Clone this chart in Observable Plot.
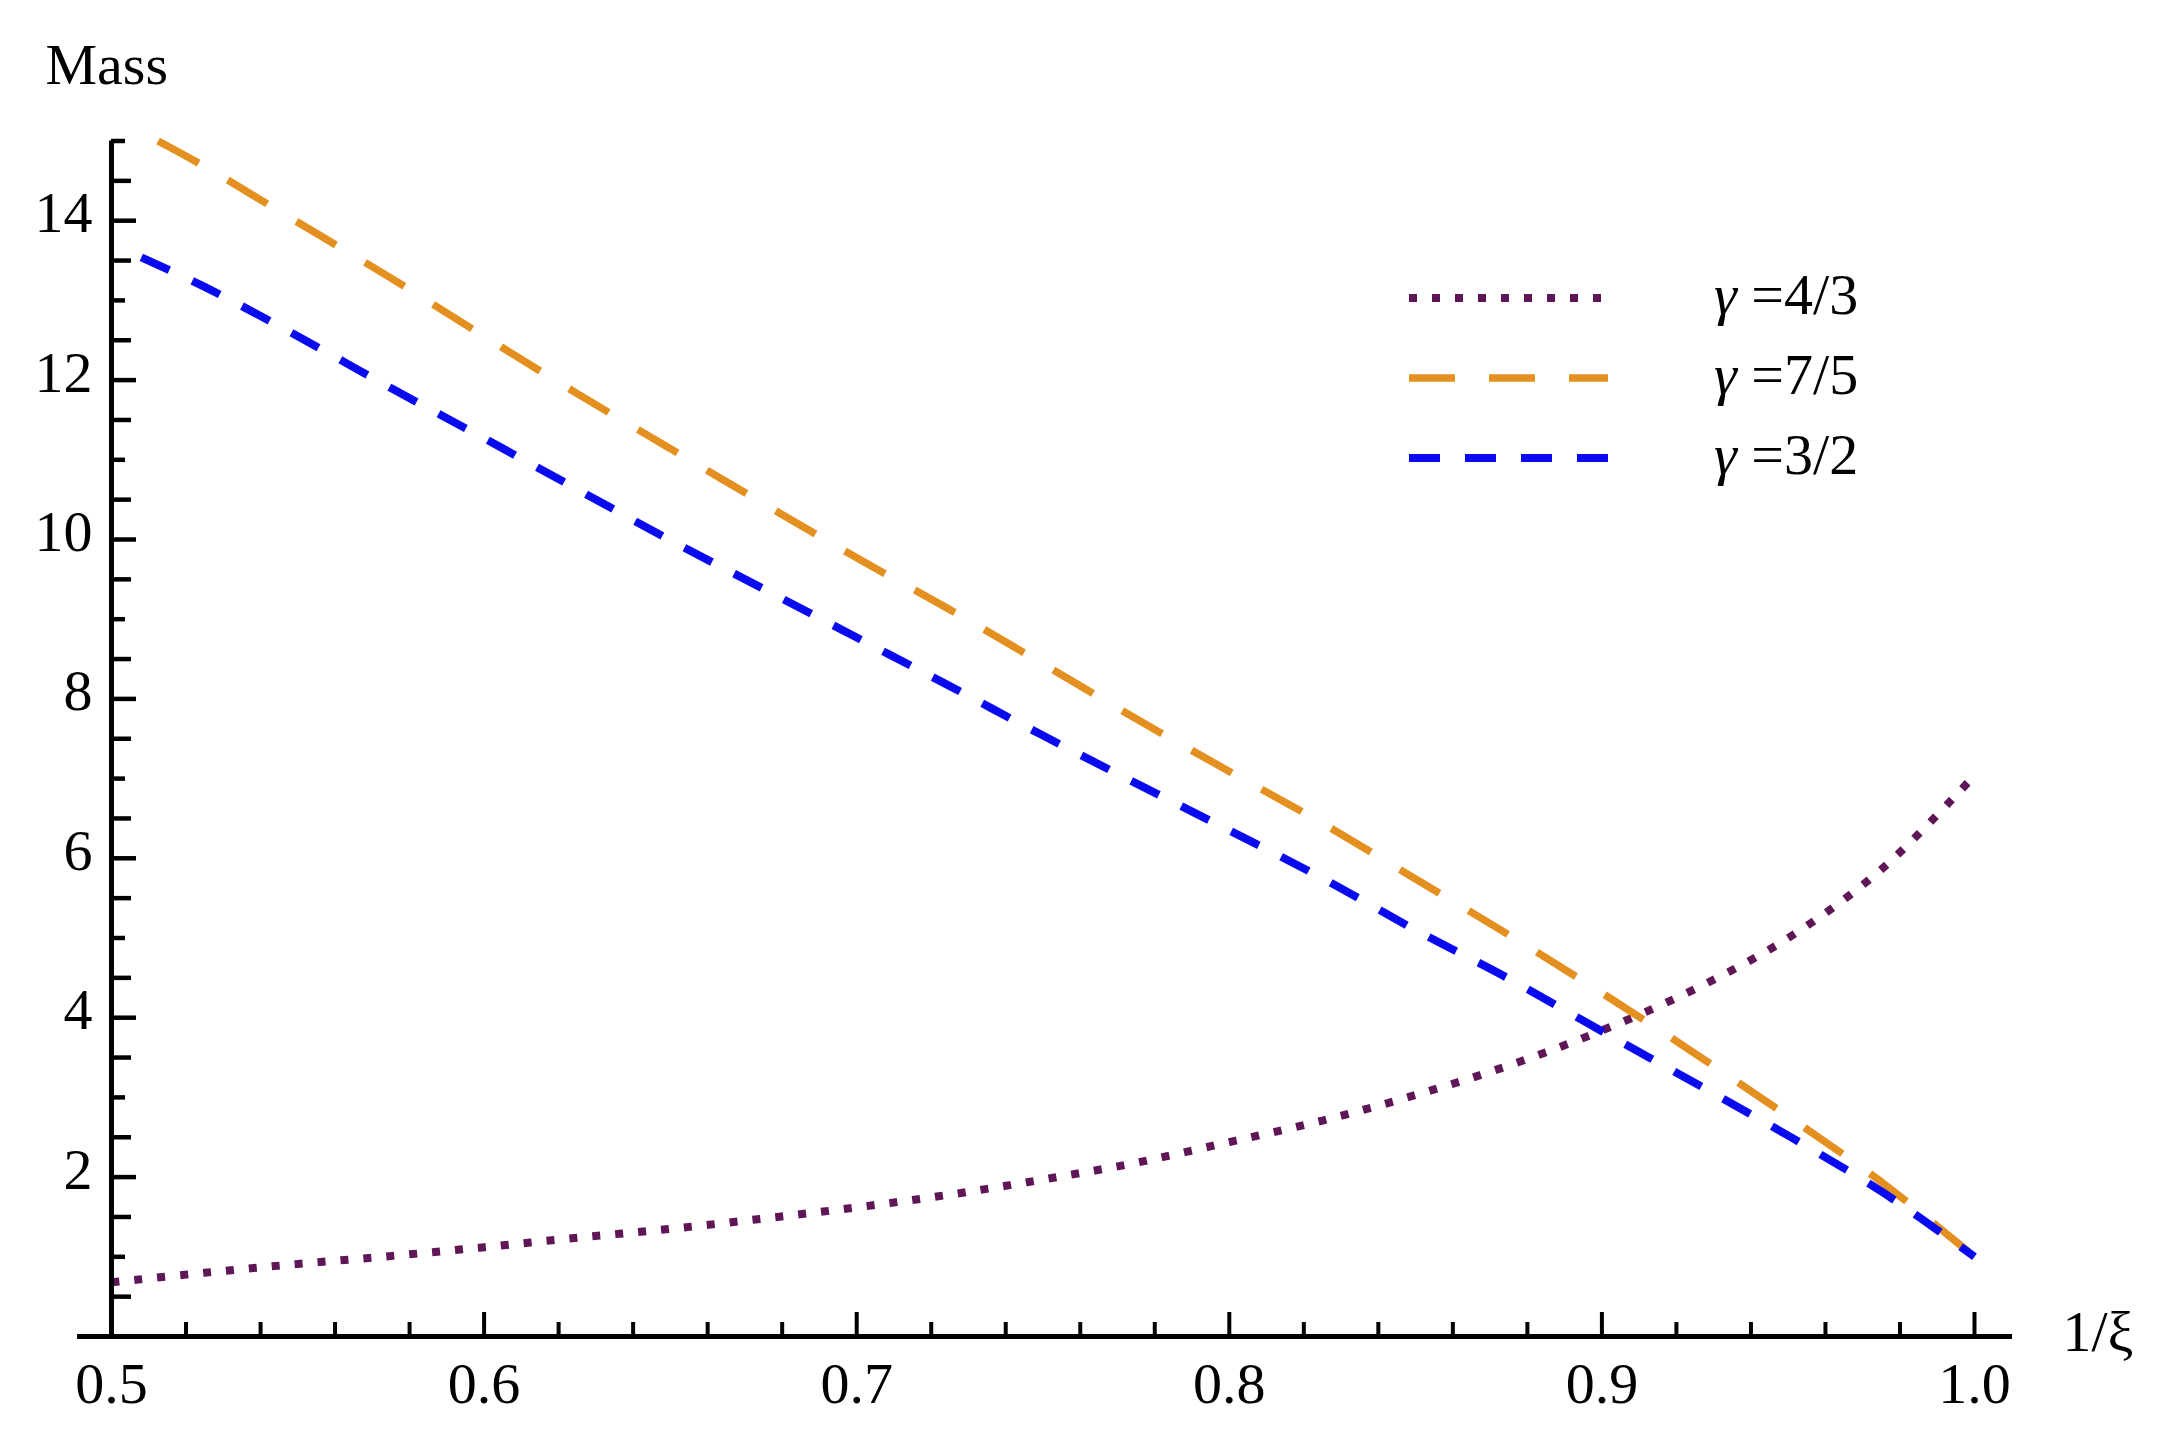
<!DOCTYPE html>
<html>
<head>
<meta charset="utf-8">
<script src="https://cdn.jsdelivr.net/npm/d3@7"></script>
<script src="https://cdn.jsdelivr.net/npm/@observablehq/plot@0.6"></script>
<style>
  html, body { margin: 0; padding: 0; background: #ffffff; }
  #chart { width: 2161px; height: 1441px; }
</style>
</head>
<body>
<div id="chart"></div>
<script>
// ---- data ----
const gamma43X = [0.500,0.525,0.550,0.575,0.600,0.625,0.650,0.675,0.700,0.725,0.750,0.775,0.800,0.825,0.850,0.875,0.900,0.925,0.950,0.975,1.000];
const gamma43Y = [0.68,0.80,0.91,1.01,1.12,1.24,1.35,1.48,1.62,1.78,1.97,2.18,2.44,2.71,3.03,3.40,3.84,4.36,5.00,5.86,7.04];

const gamma75X = [0.5125,0.525,0.550,0.575,0.600,0.625,0.650,0.675,0.700,0.725,0.750,0.775,0.800,0.825,0.850,0.875,0.900,0.925,0.950,0.975,1.000];
const gamma75Y = [15.00,14.68,13.98,13.28,12.55,11.83,11.14,10.45,9.77,9.12,8.44,7.75,7.09,6.44,5.74,5.04,4.31,3.55,2.76,1.94,1.00];

const gamma32X = [0.508,0.525,0.550,0.575,0.600,0.625,0.650,0.675,0.700,0.725,0.750,0.775,0.800,0.825,0.850,0.875,0.900,0.925,0.950,0.975,1.000];
const gamma32Y = [13.54,13.17,12.55,11.90,11.27,10.63,9.99,9.38,8.77,8.16,7.54,6.94,6.35,5.75,5.10,4.49,3.83,3.18,2.52,1.82,1.00];

const seriesLabels = ["4/3", "7/5", "3/2"];

const xTickLabels = [0.5, 0.6, 0.7, 0.8, 0.9, 1.0];
const xMinorTicks = d3.range(0, 26).map(i => +(0.5 + i * 0.02).toFixed(2)).filter(v => !xTickLabels.some(t => Math.abs(t - v) < 1e-9));
const yTickLabels = [2, 4, 6, 8, 10, 12, 14];
const yHalfTicks = [0.5,1.5,2.5,3.5,4.5,5.5,6.5,7.5,8.5,9.5,10.5,11.5,12.5,13.5,14.5];
const yOddTicks = [1,3,5,7,9,11,13,15];

// ---- styling ----
const FONT = '"Liberation Serif", "Times New Roman", "DejaVu Serif", serif';
const W = 2161, H = 1441;
const mL = 111, mR = 187, mT = 140.5, mB = 105;
const plotW = W - mL - mR, plotH = H - mT - mB;
const AXIS_X_START = 0.4909, AXIS_X_END = 1.0102;

const styles = [
  {color: "#5e1656", width: 8,   dash: "8,15"},
  {color: "#e39020", width: 7.5, dash: "46,34"},
  {color: "#0a0aee", width: 8,   dash: "31,25"}
];

const series = [
  {label: seriesLabels[0], xs: gamma43X, ys: gamma43Y, ...styles[0]},
  {label: seriesLabels[1], xs: gamma75X, ys: gamma75Y, ...styles[1]},
  {label: seriesLabels[2], xs: gamma32X, ys: gamma32Y, ...styles[2]}
];

const lineMarks = series.map(s =>
  Plot.line(s.xs.map((x, i) => ({x, y: s.ys[i]})), {
    x: "x", y: "y",
    stroke: s.color, strokeWidth: s.width, strokeDasharray: s.dash,
    strokeLinecap: "butt", strokeLinejoin: "miter",
    curve: "catmull-rom"
  })
);

const chart = Plot.plot({
  width: W, height: H,
  marginLeft: mL, marginRight: mR, marginTop: mT, marginBottom: mB,
  style: {background: "white", fontFamily: FONT, color: "black", overflow: "visible"},
  x: {domain: [0.5, 1.0]},
  y: {domain: [0, 15]},
  marks: [
    ...lineMarks,
    Plot.ruleX([0.5], {stroke: "black", strokeWidth: 5}),
    Plot.ruleY([0], {x1: AXIS_X_START, x2: AXIS_X_END, stroke: "black", strokeWidth: 5}),
    Plot.tickY(yTickLabels, {y: d => d, insetRight: plotW - 25, stroke: "black", strokeWidth: 4.5}),
    Plot.tickY(yHalfTicks, {y: d => d, insetRight: plotW - 20, stroke: "black", strokeWidth: 4.5}),
    Plot.tickY(yOddTicks, {y: d => d, insetRight: plotW - 14, stroke: "black", strokeWidth: 4.5}),
    Plot.tickX(xTickLabels, {x: d => d, insetTop: plotH - 24, stroke: "black", strokeWidth: 4}),
    Plot.tickX(xMinorTicks, {x: d => d, insetTop: plotH - 14, stroke: "black", strokeWidth: 4}),
    Plot.axisX(xTickLabels, {tickSize: 0, tickPadding: 25, tickFormat: d3.format(".1f"), fontSize: 58, label: null}),
    Plot.axisY(yTickLabels, {tickSize: 0, tickPadding: 19, dy: -7, tickFormat: d => String(d), fontSize: 58, label: null}),
    Plot.text(["Mass"], {frameAnchor: "top-left", textAnchor: "start", lineAnchor: "bottom", dx: -66, dy: -57, fontSize: 58}),
    Plot.text(["1/ξ"], {frameAnchor: "bottom-right", textAnchor: "start", lineAnchor: "bottom", dx: 88, dy: 14, fontSize: 58})
  ]
});

document.getElementById("chart").appendChild(chart);

// ---- legend (inside the plot area, top right) ----
const svg = d3.select(chart);
const lg = svg.append("g").attr("class", "legend").attr("text-anchor", "start");
series.forEach((s, i) => {
  const y = 298 + i * 80;
  lg.append("line")
    .attr("x1", 1409).attr("x2", 1608).attr("y1", y).attr("y2", y)
    .attr("stroke", s.color).attr("stroke-width", s.width)
    .attr("stroke-dasharray", s.dash).attr("stroke-linecap", "butt");
  const t = lg.append("text")
    .attr("x", 1714).attr("y", y + 16)
    .attr("text-anchor", "start")
    .attr("font-family", FONT).attr("font-size", 58).attr("fill", "black");
  t.append("tspan").attr("font-style", "italic").text("γ");
  t.append("tspan").text(" =" + s.label);
});
</script>
</body>
</html>
